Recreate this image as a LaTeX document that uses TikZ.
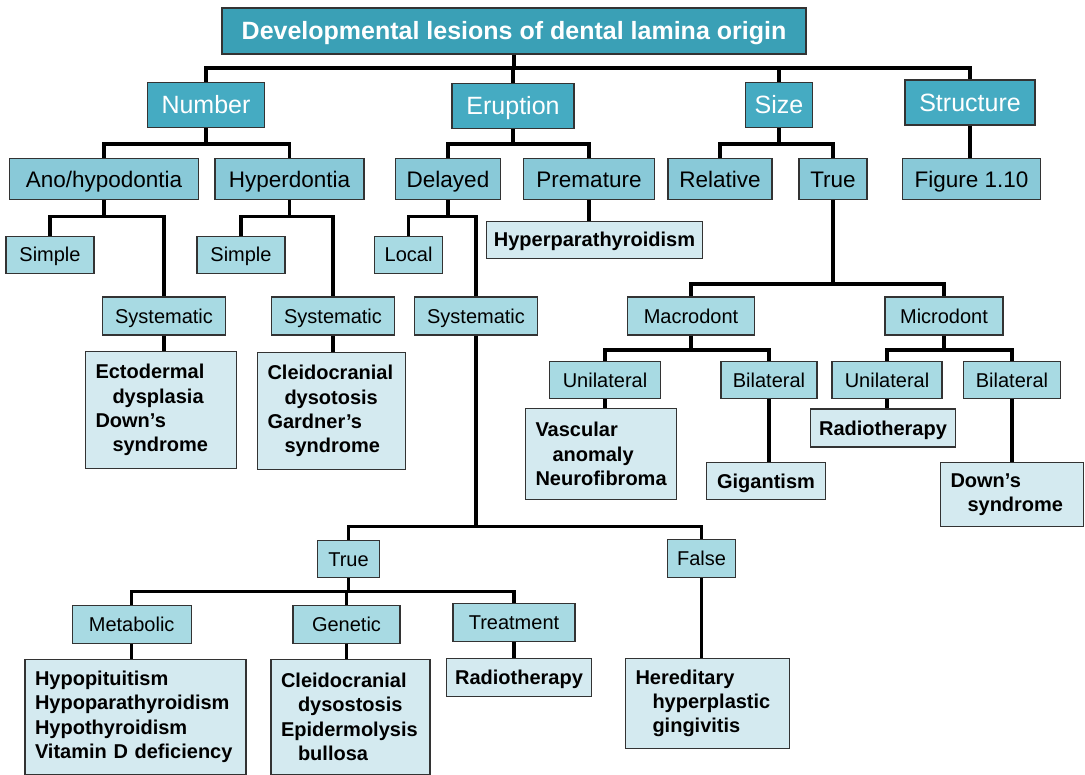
\documentclass[tikz,border=0pt]{standalone}
\usepackage{fontspec}
\setmainfont{Liberation Sans}

\definecolor{TitleColor}{HTML}{3AA0B6}
\definecolor{MainColor}{HTML}{45ABC2}
\definecolor{SubColor}{HTML}{89C9D8}
\definecolor{KindColor}{HTML}{A8DAE3}
\definecolor{LeafColor}{HTML}{D4EAF0}
\definecolor{BorderColor}{HTML}{333333}

\newcommand{\leafindent}{\hspace*{8.5pt}}

\tikzset{
	box/.style={draw=BorderColor, line width=0.6pt, inner sep=0pt, align=center},
	titlebox/.style={box, fill=TitleColor, text=white, text height=8.95pt, text depth=0pt,
		font=\bfseries\fontsize{12.5}{15}\selectfont},
	mainbox/.style={box, fill=MainColor, text=white, minimum height=22.5pt,
		text height=8.95pt, text depth=0pt, font=\fontsize{12.5}{15}\selectfont},
	subbox/.style={box, fill=SubColor, minimum height=20.5pt,
		text height=8.05pt, text depth=0pt, font=\fontsize{11.25}{13.5}\selectfont},
	kindbox/.style={box, fill=KindColor, minimum height=19pt,
		text height=7.16pt, text depth=0pt, font=\fontsize{10}{12}\selectfont},
	leafbox/.style={box, fill=LeafColor, minimum height=19pt,
		text height=7.16pt, text depth=0pt, font=\bfseries\fontsize{10}{12}\selectfont},
	listbox/.style={box, fill=LeafColor, align=left, inner xsep=5pt, text width=#1,
		font=\bfseries\fontsize{10}{12.1}\selectfont},
	link/.style={line width=1.7pt, black}
}

\begin{document}
\begin{tikzpicture}[x=0.5pt, y=-0.5pt]

	\useasboundingbox (0,0) rectangle (1085,775);

	% Title and main groups

	\node [titlebox, minimum width=292pt, minimum height=23pt] (title) at (514,31)
		{Developmental lesions of dental lamina origin};
	\node [mainbox, minimum width=58.5pt] (number) at (206,105) {Number};
	\node [mainbox, minimum width=61pt] (eruption) at (513,106) {Eruption};
	\node [mainbox, minimum width=33.5pt] (size) at (779,105) {Size};
	\node [mainbox, minimum width=65pt] (structure) at (970,102.5) {Structure};

	% Second level

	\node [subbox, minimum width=94.5pt] (ano) at (104,179) {Ano/hypodontia};
	\node [subbox, minimum width=74.5pt] (hyper) at (289.5,179) {Hyperdontia};
	\node [subbox, minimum width=52.5pt] (delayed) at (448,179) {Delayed};
	\node [subbox, minimum width=65.5pt] (premature) at (589,179) {Premature};
	\node [subbox, minimum width=52pt] (relative) at (720,179) {Relative};
	\node [subbox, minimum width=34pt] (truesize) at (833,179) {True};
	\node [subbox, minimum width=69pt] (figure) at (971.5,179) {Figure 1.10};

	% Third level

	\node [kindbox, minimum width=44pt, minimum height=18.5pt] (simpleA) at (50,254.7) {Simple};
	\node [kindbox, minimum width=44pt, minimum height=18.5pt] (simpleH) at (241,254.7) {Simple};
	\node [kindbox, minimum width=34pt, minimum height=18.5pt] (local) at (408.6,254.7) {Local};
	\node [leafbox, minimum width=108pt, minimum height=18.5pt] (hyperpara) at (594.5,239.7) {Hyperparathyroidism};

	\node [kindbox, minimum width=61.5pt] (systA) at (164,316) {Systematic};
	\node [kindbox, minimum width=61.5pt] (systH) at (333,316) {Systematic};
	\node [kindbox, minimum width=61.5pt] (systD) at (476,316) {Systematic};
	\node [kindbox, minimum width=63.5pt] (macro) at (691,316) {Macrodont};
	\node [kindbox, minimum width=59pt] (micro) at (944,316) {Microdont};

	\node [kindbox, minimum width=55.5pt, minimum height=18.5pt] (uniMa) at (605,380) {Unilateral};
	\node [kindbox, minimum width=48pt, minimum height=18.5pt] (biMa) at (769,380) {Bilateral};
	\node [kindbox, minimum width=55pt, minimum height=18.5pt] (uniMi) at (887,380) {Unilateral};
	\node [kindbox, minimum width=48.5pt, minimum height=18.5pt] (biMi) at (1012,380) {Bilateral};

	% Leaves of the upper half

	\node [listbox=65.5pt, minimum height=58.5pt] (ectoderm) at (161,410)
		{Ectodermal\\\leafindent dysplasia\\Down’s\\\leafindent syndrome};
	\node [listbox=64pt, minimum height=58.5pt] (cleidoH) at (331.5,411)
		{Cleidocranial\\\leafindent dysotosis\\Gardner’s\\\leafindent syndrome};
	\node [listbox=65.5pt, minimum height=45.5pt] (vascular) at (601,454)
		{Vascular\\\leafindent anomaly\\Neurofibroma};
	\node [leafbox, minimum width=59.5pt, minimum height=18.5pt] (gigantism) at (766,481) {Gigantism};
	\node [leafbox, minimum width=72.5pt] (radioMi) at (883,428) {Radiotherapy};
	\node [listbox=61.5pt, minimum height=32pt] (downMi) at (1012,494.7)
		{Down’s\\\leafindent syndrome};

	% Systematic eruption

	\node [kindbox, minimum width=31pt, minimum height=18.5pt] (trueD) at (348.5,559.3) {True};
	\node [kindbox, minimum width=34pt] (falseD) at (701.5,558.3) {False};
	\node [kindbox, minimum width=59.5pt] (metabolic) at (131.7,624.3) {Metabolic};
	\node [kindbox, minimum width=53.5pt] (genetic) at (346.5,624.3) {Genetic};
	\node [kindbox, minimum width=61pt] (treatment) at (514,622.5) {Treatment};

	\node [listbox=100.5pt, minimum height=57.5pt] (hypo) at (135.5,716.8)
		{Hypopituitism\\Hypoparathyroidism\\Hypothyroidism\\Vitamin D deficiency};
	\node [listbox=69.5pt, minimum height=57.5pt] (cleidoG) at (350.5,716.8)
		{Cleidocranial\\\leafindent dysostosis\\Epidermolysis\\\leafindent bullosa};
	\node [leafbox, minimum width=72.5pt] (radioT) at (519,677.5) {Radiotherapy};
	\node [listbox=72pt, minimum height=45pt] (hereditary) at (707.5,703.3)
		{Hereditary\\\leafindent hyperplastic\\\leafindent gingivitis};

	% Connectors

	\draw [link] (title.south) -- (title.south |- 0,68) coordinate (j0)
		(j0) -| (number.north) (j0) -| (eruption.north) (j0) -| (size.north) (j0) -| (structure.north);
	\draw [link] (number.south) -- (number.south |- 0,144) coordinate (j1)
		(j1) -| (ano.north) (j1) -| (hyper.north);
	\draw [link] (eruption.south) -- (eruption.south |- 0,144) coordinate (j2)
		(j2) -| (delayed.north) (j2) -| (premature.north);
	\draw [link] (size.south) -- (size.south |- 0,144) coordinate (j3)
		(j3) -| (relative.north) (j3) -| (truesize.north);
	\draw [link] (structure.south) -- (structure.south |- figure.north);

	\draw [link] (ano.south) -- (ano.south |- 0,216.7) coordinate (j4)
		(j4) -| (simpleA.north) (j4) -| (systA.north);
	\draw [link] (hyper.south) -- (hyper.south |- 0,216.7) coordinate (j5)
		(j5) -| (simpleH.north) (j5) -| (systH.north);
	\draw [link] (delayed.south) -- (delayed.south |- 0,216.7) coordinate (j6)
		(j6) -| (local.north) (j6) -| (systD.north);
	\draw [link] (premature.south) -- (premature.south |- hyperpara.north);

	\draw [link] (truesize.south) -- (truesize.south |- 0,284) coordinate (j7)
		(j7) -| (macro.north) (j7) -| (micro.north);
	\draw [link] (macro.south) -- (macro.south |- 0,350) coordinate (j8)
		(j8) -| (uniMa.north) (j8) -| (biMa.north);
	\draw [link] (micro.south) -- (micro.south |- 0,350) coordinate (j9)
		(j9) -| (uniMi.north) (j9) -| (biMi.north);
	\draw [link] (uniMa.south) -- (uniMa.south |- vascular.north);
	\draw [link] (biMa.south) -- (biMa.south |- gigantism.north);
	\draw [link] (uniMi.south) -- (uniMi.south |- radioMi.north);
	\draw [link] (biMi.south) -- (biMi.south |- downMi.north);

	\draw [link] (systA.south) -- (systA.south |- ectoderm.north);
	\draw [link] (systH.south) -- (systH.south |- cleidoH.north);
	\draw [link] (systD.south) -- (systD.south |- 0,526.7) coordinate (j10)
		(j10) -| (trueD.north) (j10) -| (falseD.north);
	\draw [link] (trueD.south) -- (trueD.south |- 0,591.7) coordinate (j11)
		(j11) -| (metabolic.north) (j11) -| (genetic.north) (j11) -| (treatment.north);
	\draw [link] (metabolic.south) -- (metabolic.south |- hypo.north);
	\draw [link] (genetic.south) -- (genetic.south |- cleidoG.north);
	\draw [link] (treatment.south) -- (treatment.south |- radioT.north);
	\draw [link] (falseD.south) -- (falseD.south |- hereditary.north);

\end{tikzpicture}
\end{document}
